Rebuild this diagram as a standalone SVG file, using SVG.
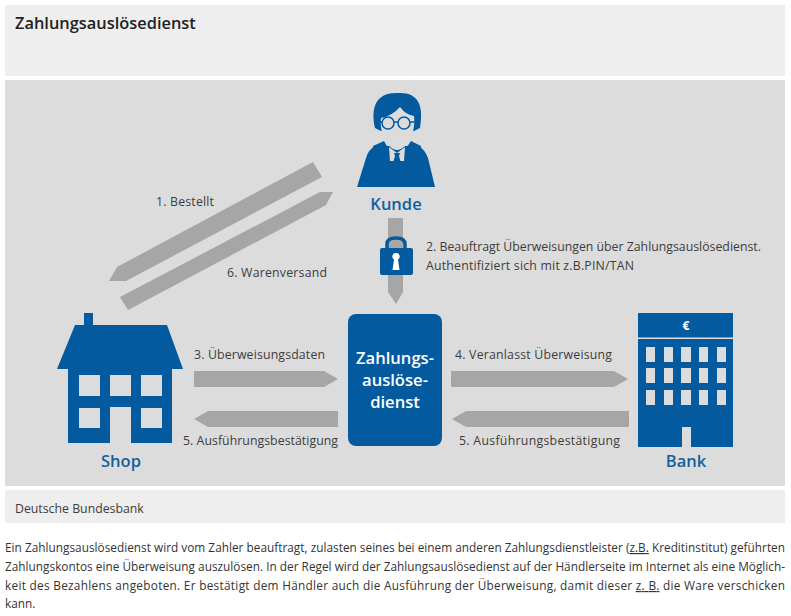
<svg xmlns="http://www.w3.org/2000/svg" width="791" height="616" viewBox="0 0 791 616">
<style>
text{font-family:"Open Sans","Noto Sans","Liberation Sans",sans-serif;fill:#3c3c3c}
.l{font-size:12.3px}
.n{font-size:16.5px;font-weight:600;fill:#135f9f;text-anchor:middle}
.b{font-size:11.8px;fill:#333}
.i{fill:#045a9f}
.w{fill:#dcdcdc}
.a{fill:#a6a6a6}
.u{text-decoration:underline}
</style>
<rect width="791" height="616" fill="#fff"/>
<rect x="5" y="5" width="780" height="71" fill="#eee"/>
<rect x="5" y="80" width="780" height="406" fill="#dcdcdc"/>
<rect x="5" y="490" width="780" height="33" fill="#eee"/>
<text x="15" y="29" style="font-size:16.400px;font-weight:600;fill:#222">Zahlungsauslösedienst</text>
<text x="15" y="513" class="l">Deutsche Bundesbank</text>
<g id="connectors">
<polygon class="a" points="313,162 322,177 126,281 109,281 117,267"/>
<polygon class="a" points="320,192 333,192 326,205 128,310 120,297"/>
<polygon class="a" points="388,218 403,218 403,292 396,304 388,292"/>
<polygon class="a" points="194,371 324,371 338,379 324,387 194,387"/>
<polygon class="a" points="338,411 208,411 194,419 208,427 338,427"/>
<polygon class="a" points="451,371 614,371 628,379 614,387 451,387"/>
<polygon class="a" points="629,411 466,411 452,419 466,427 629,427"/>
</g>
<g id="labels">
<text x="156" y="206" class="l" textLength="58">1. Bestellt</text>
<text x="227" y="277" class="l" textLength="100">6. Warenversand</text>
<text x="426" y="251" class="l">2. Beauftragt Überweisungen über Zahlungsauslösedienst.</text>
<text x="426" y="270" class="l" textLength="208">Authentifiziert sich mit z.B.PIN/TAN</text>
<text x="194" y="359" class="l" textLength="131">3. Überweisungsdaten</text>
<text x="183" y="445" class="l" textLength="155">5. Ausführungsbestätigung</text>
<text x="455" y="359" class="l" textLength="157">4. Veranlasst Überweisung</text>
<text x="459" y="445" class="l" textLength="161">5. Ausführungsbestätigung</text>
</g>
<g id="kunde">
<path class="i" d="M357,187 L366,158 Q368,150 375,146 L389,142 H405 L419,146 Q425,150 428,158 L435,187 Z"/>
<path class="w" d="M374,134 H420 V146 H374 Z"/>
<path class="i" d="M375,128 C370,105 378,92 398,93 C418,92 424,105 420,128 L414,131 H381 Z"/>
<path class="w" d="M381,118 Q392,116 400,107 Q406,115 414,116 C416,132 408,149 397,150 C387,149 379,132 381,118 Z"/>
<path class="i" d="M373,146 L384,141 Q388,150 397,153 Q406,150 411,141 L421,146 V160 H373 Z"/>
<path class="w" d="M389,147 L397,153 L405,147 L404,161 L390,161 Z"/>
<path class="i" d="M394,153 L400,153 L399,156 L401,163 L393,163 L395,156 Z"/>
<g fill="none" stroke="#045a9f" stroke-width="1.500"><circle cx="388" cy="123" r="6"/><circle cx="404" cy="123" r="6"/><path d="M394,122 H398 M382,122 H378 M410,122 H416"/></g>
<text x="396" y="210" class="n">Kunde</text>
</g>
<g id="schloss">
<path d="M387,249 V244 Q387,238 396,238 Q405,238 405,244 V249" fill="none" stroke="#045a9f" stroke-width="3.500"/>
<rect class="i" x="380" y="248" width="33" height="27" rx="2"/>
<path fill="#fff" d="M396,253 a3.500,3.500 0 0 1 2,6.500 L399.500,270 H392.500 L394,259.500 a3.500,3.500 0 0 1 2,-6.500 Z"/>
</g>
<g id="dienst">
<rect class="i" x="348" y="314" width="94" height="132" rx="8"/>
<g style="font-size:16.600px;font-weight:600" text-anchor="middle">
<text x="395" y="364" style="fill:#fff">Zahlungs-</text>
<text x="395" y="386" style="fill:#fff">auslöse-</text>
<text x="395" y="408" style="fill:#fff">dienst</text>
</g>
</g>
<g id="shop">
<path class="i" d="M84,313 H93 V325 H167 L183,369 H172 V443 H131 V407 H110 V443 H68 V369 H57 L75,325 H84 Z"/>
<rect class="w" x="79" y="375" width="21" height="21"/>
<rect class="w" x="110" y="375" width="21" height="21"/>
<rect class="w" x="141" y="375" width="21" height="21"/>
<rect class="w" x="79" y="408" width="21" height="20"/>
<rect class="w" x="141" y="408" width="21" height="20"/>
<text x="121" y="467" class="n">Shop</text>
</g>
<g id="bank">
<rect class="i" x="638" y="313" width="95" height="134"/>
<rect x="638" y="337.500" width="95" height="1.500" fill="#dcdcdc"/>
<text x="686" y="330" text-anchor="middle" style="font-size:12px;font-weight:700;fill:#fff">€</text>
<g class="w">
<rect x="646" y="347" width="9" height="15"/><rect x="664" y="347" width="9" height="15"/><rect x="681" y="347" width="10" height="15"/><rect x="699" y="347" width="9" height="15"/><rect x="717" y="347" width="9" height="15"/>
<rect x="646" y="368" width="9" height="15"/><rect x="664" y="368" width="9" height="15"/><rect x="681" y="368" width="10" height="15"/><rect x="699" y="368" width="9" height="15"/><rect x="717" y="368" width="9" height="15"/>
<rect x="646" y="390" width="9" height="15"/><rect x="664" y="390" width="9" height="15"/><rect x="681" y="390" width="10" height="15"/><rect x="699" y="390" width="9" height="15"/><rect x="717" y="390" width="9" height="15"/>
<rect x="682" y="427" width="9" height="20"/>
</g>
<text x="686" y="467" class="n">Bank</text>
</g>
<g id="text">
<text x="5" y="552" class="b" textLength="780">Ein Zahlungsauslösedienst wird vom Zahler beauftragt, zulasten seines bei einem anderen Zahlungsdienstleister (<tspan class="u">z.B.</tspan> Kreditinstitut) geführten</text>
<text x="5" y="571" class="b" textLength="780">Zahlungskontos eine Überweisung auszulösen. In der Regel wird der Zahlungsauslösedienst auf der Händlerseite im Internet als eine Möglich-</text>
<text x="5" y="590" class="b" textLength="780">keit des Bezahlens angeboten. Er bestätigt dem Händler auch die Ausführung der Überweisung, damit dieser <tspan class="u">z. B.</tspan> die Ware verschicken</text>
<text x="5" y="608" class="b">kann.</text>
</g>
</svg>
